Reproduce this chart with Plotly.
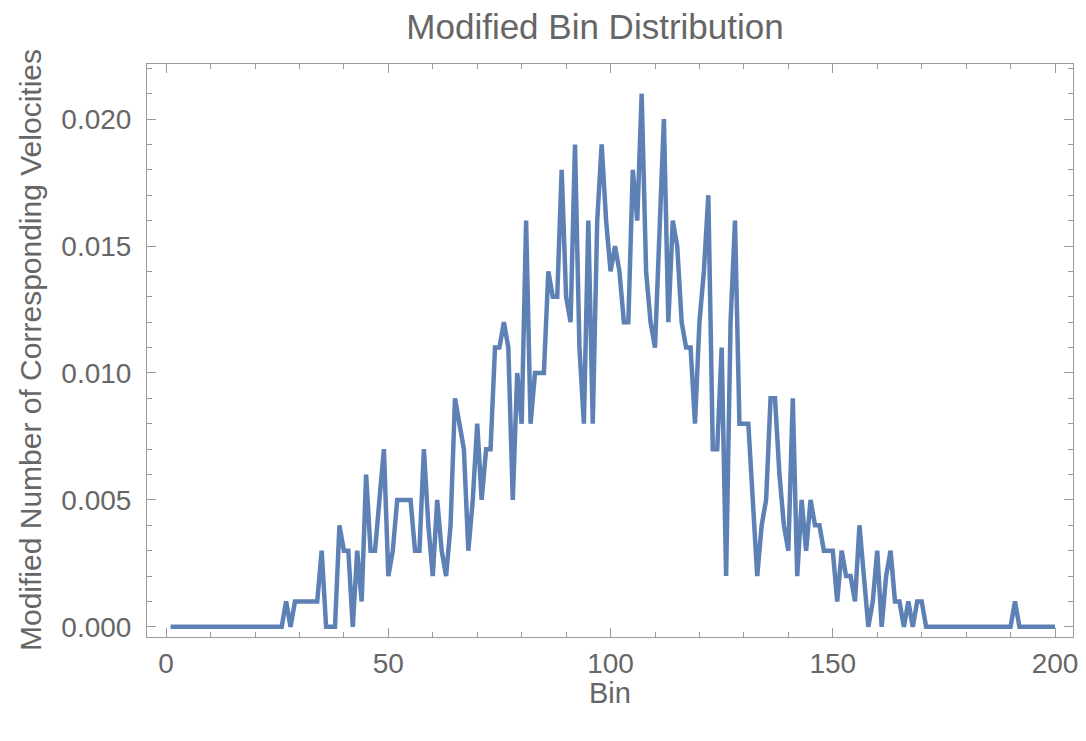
import plotly.graph_objects as go

# Values in units of 0.001 (bins 1..200)
bins = list(range(1, 201))
counts_milli = (
    [0] * 26 +                                  # 1-26
    [1, 0, 1, 1, 1, 1, 1, 1, 3, 0, 0, 0,         # 27-38
     4, 3, 3, 0, 3, 1, 6, 3, 3, 5, 7,            # 39-49
     2, 3, 5, 5, 5, 5, 3, 3, 7, 4,               # 50-59
     2, 5, 3, 2, 4, 9, 8, 7, 3, 5,               # 60-69
     8, 5, 7, 7, 11, 11, 12, 11, 5, 10,          # 70-79
     8, 16, 8, 10, 10, 10, 14, 13, 13, 18,       # 80-89
     13, 12, 19, 11, 8, 16, 8, 16, 19, 16,       # 90-99
     14, 15, 14, 12, 12, 18, 16, 21, 14, 12,     # 100-109
     11, 15, 20, 12, 16, 15, 12, 11, 11, 8,      # 110-119
     12, 14, 17, 7, 7, 11, 2, 12, 16, 8,         # 120-129
     8, 8, 5, 2, 4, 5, 9, 9, 6, 4,               # 130-139
     3, 9, 2, 5, 3, 5, 4, 4, 3, 3,               # 140-149
     3, 1, 3, 2, 2, 1, 4, 2, 0, 1,               # 150-159
     3, 0, 2, 3, 1, 1, 0, 1, 0, 1, 1] +          # 160-170
    [0] * 20 +                                  # 171-190
    [1] +                                       # 191
    [0] * 9                                     # 192-200
)
values = [c / 1000 for c in counts_milli]

x_ticks = [0, 50, 100, 150, 200]
y_ticks = [0.000, 0.005, 0.010, 0.015, 0.020]
y_tick_labels = ["0.000", "0.005", "0.010", "0.015", "0.020"]

title_text = "Modified Bin Distribution"
x_title = "Bin"
y_title = "Modified Number of Corresponding Velocities"

FONT = "Liberation Sans, Arial, sans-serif"
TEXT = "#666666"
FRAME = "#9a9a9a"

# page body has an 8px margin, so the figure is drawn 8px in from the window edge
OFF = 8
W, H = 1086 - OFF, 741 - OFF
L, R, T, B = 147 - OFF, 13, 64 - OFF, 104
PW, PH = W - L - R, H - T - B


def px_to_paper_x(px):
    return (px - OFF - L) / PW


def px_to_paper_y(py):
    return (T + PH - (py - OFF)) / PH


fig = go.Figure()
fig.add_trace(go.Scatter(
    x=bins, y=values, mode="lines",
    line=dict(color="#5E81B5", width=4.5),
    hoverinfo="x+y",
))

fig.update_layout(
    width=W, height=H,
    margin=dict(l=L, r=R, t=T, b=B, pad=0, autoexpand=False),
    paper_bgcolor="white", plot_bgcolor="white",
    showlegend=False,
    font=dict(family=FONT, color=TEXT),
    title=dict(text=title_text, x=(595 - OFF) / W, xref="container", xanchor="center",
               y=1 - (27 - OFF) / H, yref="container", yanchor="middle",
               font=dict(size=35, color=TEXT, family=FONT)),
    annotations=[
        dict(text=x_title, xref="paper", yref="paper",
             x=px_to_paper_x(610), y=px_to_paper_y(693),
             xanchor="center", yanchor="middle", showarrow=False,
             font=dict(size=29, color=TEXT, family=FONT)),
        dict(text=y_title, xref="paper", yref="paper",
             x=px_to_paper_x(30), y=px_to_paper_y(350), textangle=-90,
             xanchor="center", yanchor="middle", showarrow=False,
             font=dict(size=30, color=TEXT, family=FONT)),
    ],
)

fig.update_xaxes(
    range=[-4.3, 204.05], automargin=False,
    tickmode="array", tickvals=x_ticks, ticktext=[str(v) for v in x_ticks],
    ticks="inside", ticklen=9, tickwidth=1, tickcolor=FRAME,
    minor=dict(dtick=10, tick0=0, ticks="inside", ticklen=5, tickwidth=1, tickcolor=FRAME),
    showline=True, linecolor=FRAME, linewidth=1, mirror="allticks",
    showgrid=False, zeroline=False,
    tickfont=dict(size=28, color=TEXT, family=FONT),
    ticklabelstandoff=1,
)
fig.update_yaxes(
    range=[-0.00040, 0.02217], automargin=False,
    tickmode="array", tickvals=y_ticks, ticktext=y_tick_labels,
    ticks="inside", ticklen=9, tickwidth=1, tickcolor=FRAME,
    minor=dict(dtick=0.001, tick0=0, ticks="inside", ticklen=5, tickwidth=1, tickcolor=FRAME),
    showline=True, linecolor=FRAME, linewidth=1, mirror="allticks",
    showgrid=False, zeroline=False,
    tickfont=dict(size=28, color=TEXT, family=FONT),
    ticklabelstandoff=9,
)

fig.write_html("out.html")
